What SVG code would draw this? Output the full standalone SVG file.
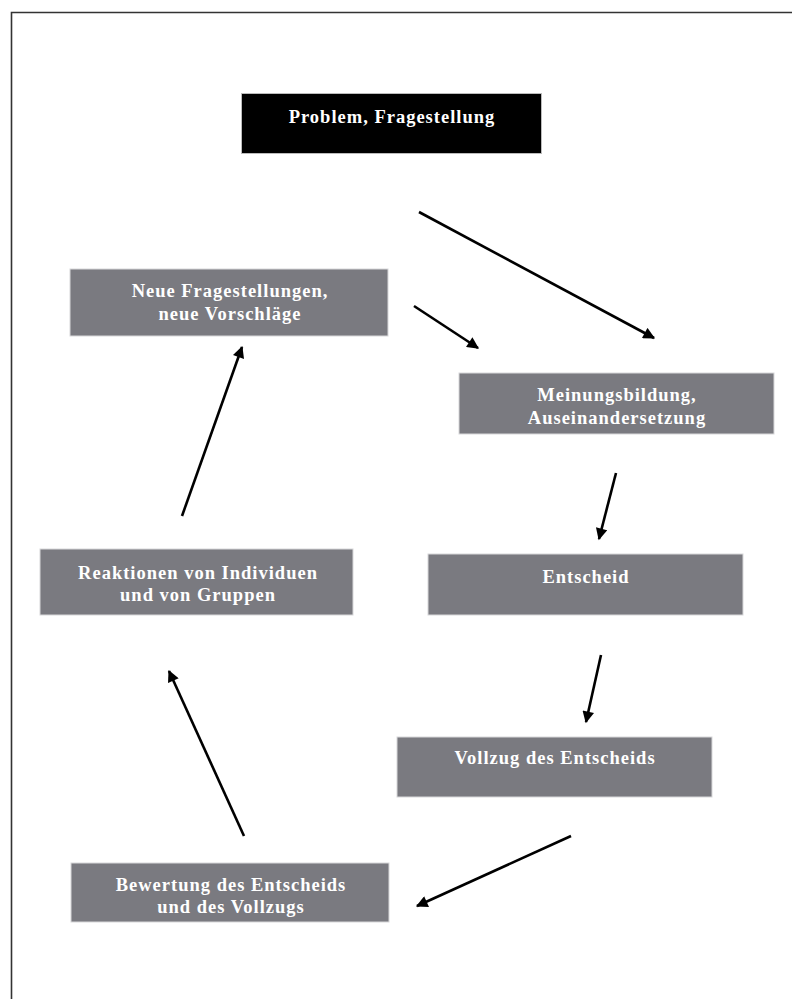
<svg xmlns="http://www.w3.org/2000/svg" width="792" height="999" viewBox="0 0 792 999">
<defs>
<marker id="ah" viewBox="0 0 10 10" refX="9" refY="5" markerWidth="5" markerHeight="4.5" markerUnits="strokeWidth" orient="auto">
<path d="M0,0 L10,5 L0,10 z" fill="#000"/>
</marker>
<style>
.box{fill:#7a7a80;stroke:#d8d8da;stroke-width:1}
.dark{fill:#000;stroke:#bbb;stroke-width:1}
.t{font-family:"Liberation Serif","Times New Roman",serif;font-weight:bold;font-size:18.5px;letter-spacing:1px;fill:#fff;text-anchor:middle}
.c{stroke:#000;stroke-width:2.6;fill:none;marker-end:url(#ah)}
</style>
</defs>
<rect width="792" height="999" fill="#fff"/>
<path d="M11.5,999 V12.5 H792" fill="none" stroke="#333" stroke-width="1.6"/>
<g id="problem"><rect class="dark" x="241.5" y="93.5" width="300" height="60"/><text class="t" x="392" y="123">Problem, Fragestellung</text></g>
<g id="neue"><rect class="box" x="70" y="269" width="318" height="67"/><text class="t" x="230" y="297">Neue Fragestellungen,</text><text class="t" x="230" y="320">neue Vorschläge</text></g>
<g id="meinung"><rect class="box" x="459" y="373" width="315" height="61"/><text class="t" x="617" y="401">Meinungsbildung,</text><text class="t" x="617" y="424">Auseinandersetzung</text></g>
<g id="entscheid"><rect class="box" x="428" y="554" width="315" height="61"/><text class="t" x="586" y="583">Entscheid</text></g>
<g id="reaktionen"><rect class="box" x="40" y="549" width="313" height="66"/><text class="t" x="198" y="579">Reaktionen von Individuen</text><text class="t" x="198" y="601">und von Gruppen</text></g>
<g id="vollzug"><rect class="box" x="397" y="737" width="315" height="60"/><text class="t" x="555" y="764">Vollzug des Entscheids</text></g>
<g id="bewertung"><rect class="box" x="71" y="863" width="318" height="59"/><text class="t" x="231" y="891">Bewertung des Entscheids</text><text class="t" x="231" y="913">und des Vollzugs</text></g>
<g id="connectors">
<line class="c" x1="419" y1="212" x2="654" y2="338"/>
<line class="c" x1="414" y1="306" x2="478" y2="348"/>
<line class="c" x1="616" y1="473" x2="599" y2="539"/>
<line class="c" x1="601" y1="655" x2="586" y2="722"/>
<line class="c" x1="571" y1="836" x2="417" y2="906"/>
<line class="c" x1="244" y1="836" x2="169" y2="671"/>
<line class="c" x1="182" y1="516" x2="242" y2="347"/>
</g>
</svg>
